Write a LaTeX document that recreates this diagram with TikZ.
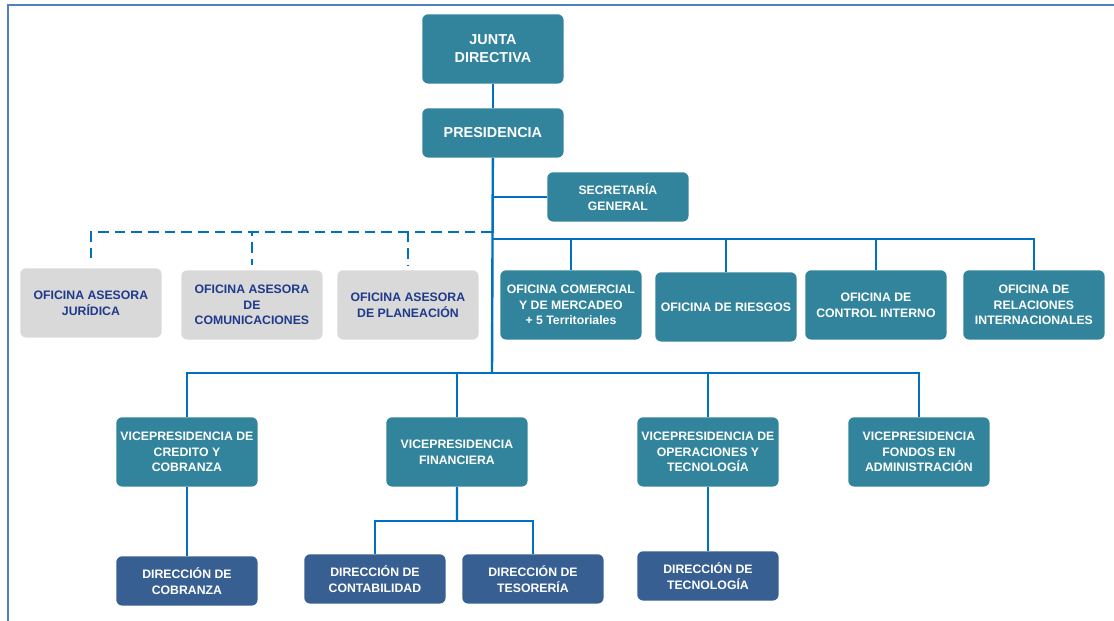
\documentclass[tikz,border=0pt]{standalone}
\usepackage{fontspec}
\setmainfont{Liberation Sans}
\usepackage{xcolor}
\usepackage{tikz}
\definecolor{petroleo}{HTML}{31849B}
\definecolor{marino}{HTML}{375F91}
\definecolor{grisclaro}{HTML}{D9D9D9}
\definecolor{tinta}{HTML}{1F3A8A}
\definecolor{linea}{HTML}{0070C0}
\definecolor{marco}{HTML}{4F81BD}

\begin{document}
\begin{tikzpicture}[x=0.75pt,y=-0.75pt,
every node/.style={anchor=north west},
caja/.style={rounded corners=4.5pt,inner sep=1pt,align=center,minimum width=106pt,
  text=white,font=\bfseries\fontsize{9.2}{11.8}\selectfont},
alta/.style={minimum height=52pt},
baja/.style={minimum height=37pt},
ofc/.style={caja,fill=petroleo},
dir/.style={caja,fill=marino},
ase/.style={caja,fill=grisclaro,text=tinta},
big/.style={font=\bfseries\fontsize{10.8}{13.6}\selectfont},
lin/.style={linea,line width=1.8pt},
das/.style={lin,dash pattern=on 8pt off 4.5pt,shorten >=4pt}
]
\useasboundingbox (0,0) rectangle (1114,621);
\draw[marco,line width=1.3pt] (8,621) -- (8,5) -- (1114,5);

% direccion general
\path (422,14) node[ofc,big,alta] (junta) {JUNTA\\DIRECTIVA}
     (422,108) node[ofc,big,baja] (pres) {PRESIDENCIA}
     (547,172) node[ofc,baja] (sec) {SECRETARÍA\\GENERAL};

% oficinas asesoras y oficinas
\path (20,268) node[ase,alta] (jur) {OFICINA ASESORA\\JURÍDICA}
     (181,270) node[ase,alta] (comu) {OFICINA ASESORA\\DE\\COMUNICACIONES}
     (337,270) node[ase,alta] (pla) {OFICINA ASESORA\\DE PLANEACIÓN}
     (500,270) node[ofc,alta] (com) {OFICINA COMERCIAL\\Y DE MERCADEO\\+ 5 Territoriales}
     (655,272) node[ofc,alta] (rie) {OFICINA DE RIESGOS}
     (805,270) node[ofc,alta] (ctl) {OFICINA DE\\CONTROL INTERNO}
     (963,270) node[ofc,alta] (rel) {OFICINA DE\\RELACIONES\\INTERNACIONALES};

% vicepresidencias
\path (116,417) node[ofc,alta] (vpc) {VICEPRESIDENCIA DE\\CREDITO Y\\COBRANZA}
     (386,417) node[ofc,alta] (vpf) {VICEPRESIDENCIA\\FINANCIERA}
     (637,417) node[ofc,alta] (vpo) {VICEPRESIDENCIA DE\\OPERACIONES Y\\TECNOLOGÍA}
     (848,417) node[ofc,alta] (vpa) {VICEPRESIDENCIA\\FONDOS EN\\ADMINISTRACIÓN};

% direcciones
\path (116,556) node[dir,baja] (dcob) {DIRECCIÓN DE\\COBRANZA}
     (304,554) node[dir,baja] (dcon) {DIRECCIÓN DE\\CONTABILIDAD}
     (462,554) node[dir,baja] (dtes) {DIRECCIÓN DE\\TESORERÍA}
     (637,551) node[dir,baja] (dtec) {DIRECCIÓN DE\\TECNOLOGÍA};

\coordinate (asbus) at (492,232);
\coordinate (ofbus) at (492,239);
\coordinate (vpbus) at (492,373);
\coordinate (finbus) at (457,521);

\draw[lin] (junta) -- (pres);
\draw[lin] (pres) -- (vpbus);
\draw[lin] (pres |- sec) -- (sec);
\foreach \n in {jur,comu,pla}
  \draw[das] (asbus) -| (\n.north);
\foreach \n in {com,rie,ctl,rel}
  \draw[lin] (ofbus) -| (\n.north);
\foreach \n in {vpc,vpf,vpo,vpa}
  \draw[lin] (vpbus) -| (\n.north);
\draw[lin] (vpc) -- (dcob);
\draw[lin] (vpf) -- (finbus);
\foreach \n in {dcon,dtes}
  \draw[lin] (finbus) -| (\n.north);
\draw[lin] (vpo) -- (dtec);
\end{tikzpicture}
\end{document}
